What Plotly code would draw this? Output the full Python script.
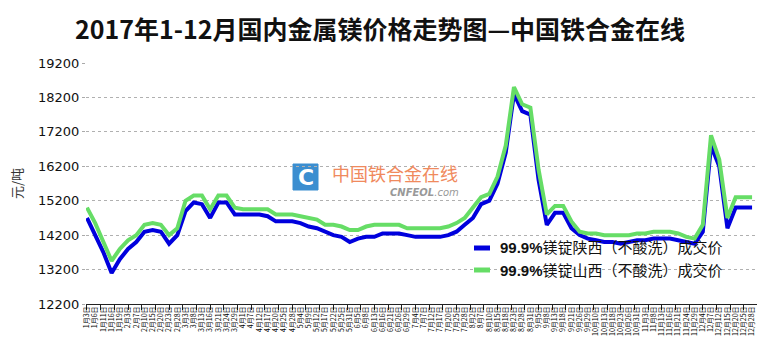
import plotly.graph_objects as go

labels = ["1月3日","1月6日","1月11日","1月16日","1月19日",
          "2月3日","2月7日","2月10日","2月15日","2月20日","2月23日","2月28日",
          "3月3日","3月8日","3月13日","3月16日","3月21日","3月24日","3月29日",
          "4月1日","4月7日","4月12日","4月17日","4月20日","4月25日","4月28日",
          "5月4日","5月9日","5月12日","5月17日","5月22日","5月25日","5月31日",
          "6月5日","6月8日","6月13日","6月16日","6月21日","6月26日","6月29日",
          "7月4日","7月7日","7月12日","7月17日","7月20日","7月25日","7月28日",
          "8月2日","8月7日","8月10日","8月15日","8月18日","8月23日","8月28日","8月31日",
          "9月5日","9月8日","9月13日","9月18日","9月21日","9月26日","9月29日",
          "10月10日","10月13日","10月18日","10月23日","10月26日","10月31日",
          "11月3日","11月8日","11月13日","11月16日","11月21日","11月24日","11月29日",
          "12月4日","12月7日","12月12日","12月15日","12月20日","12月25日","12月28日"]

shaanxi = [14700,14200,13700,13100,13500,13800,14000,14300,14350,14300,13950,14200,
           14900,15150,15100,14700,15150,15150,14800,14800,14800,14800,14750,14600,
           14600,14600,14550,14450,14400,14300,14200,14150,14000,14100,14150,14150,
           14250,14250,14250,14200,14150,14150,14150,14150,14200,14300,14500,14700,
           15100,15200,15700,16600,18300,17800,17700,15800,14500,14850,14850,14400,
           14200,14100,14050,14000,14000,13950,14000,14050,14050,14100,14100,14100,
           14050,14000,13950,14300,16800,16200,14400,15000,15000,15000]

shanxi = [15000,14550,14000,13450,13800,14050,14200,14500,14550,14500,14200,14400,
          15200,15350,15350,14950,15350,15350,15000,14950,14950,14950,14950,14800,
          14800,14800,14750,14700,14650,14500,14500,14450,14350,14350,14450,14500,
          14500,14500,14500,14400,14400,14400,14400,14400,14450,14550,14700,15000,
          15300,15400,15900,16800,18500,18000,17900,16100,14800,15050,15050,14600,
          14300,14250,14250,14200,14200,14200,14200,14250,14250,14300,14300,14300,
          14250,14150,14100,14500,17100,16400,14700,15300,15300,15300]

yticks = [12200,13200,14200,15200,16200,17200,18200,19200]

name_sx = "<b>99.9%</b>镁锭陕西（不酸洗）成交价"
name_shx = "<b>99.9%</b>镁锭山西（不酸洗）成交价"

BLUE = "#0000DD"
GREEN = "#66DD66"

W, H = 760, 357
L, R, T, B = 86, 3, 63, 53
PW, PH = W - L - R, H - T - B

def px(x):
    return (x - L) / PW

def py(y):
    return (H - B - y) / PH

idx = list(range(len(labels)))

fig = go.Figure()
fig.add_trace(go.Scatter(x=idx, y=shanxi, mode="lines", name=name_shx,
                         line=dict(color=GREEN, width=4), xaxis="x2", showlegend=False))
fig.add_trace(go.Scatter(x=idx, y=shaanxi, mode="lines", name=name_sx,
                         line=dict(color=BLUE, width=4), showlegend=False))

xr = [-0.12, len(labels) - 1 + 0.6]

fig.update_layout(
    width=W, height=H,
    margin=dict(l=L, r=R, t=T, b=B, autoexpand=False),
    paper_bgcolor="white", plot_bgcolor="white",
    title=dict(text="<b>2017年1-12月国内金属镁价格走势图—中国铁合金在线</b>",
               x=0.5, xanchor="center", y=1 - 30 / H, yanchor="middle",
               font=dict(family="Noto Sans CJK SC", size=25, color="#111")),
    xaxis=dict(range=xr, tickmode="linear", tick0=0, dtick=5 / 3,
               showticklabels=False, ticks="outside", ticklen=5, tickcolor="#222",
               showline=True, linecolor="#222", linewidth=1, showgrid=False,
               zeroline=False, automargin=False),
    xaxis2=dict(range=xr, overlaying="x", anchor="y", side="bottom",
                tickmode="array", tickvals=idx, ticktext=labels, tickangle=-90,
                ticks="", showgrid=False, zeroline=False, showline=False,
                automargin=False,
                tickfont=dict(family="Noto Sans CJK SC", size=7, color="#000")),
    yaxis=dict(range=[12200, 19200], tickmode="array", tickvals=yticks,
               ticktext=[str(v) for v in yticks], automargin=False,
               tickfont=dict(family="DejaVu Sans", size=13, color="#111"),
               showgrid=True, gridcolor="#b0b0b0", griddash="dot", gridwidth=1,
               ticks="outside", ticklen=3, tickcolor="#aaa",
               showline=False, zeroline=False,
               title=dict(text="元/吨", standoff=12,
                          font=dict(family="Noto Sans CJK SC", size=13, color="#333"))),
)

# watermark logo
shapes = []
shapes.append(dict(type="rect", xref="paper", yref="paper",
                   x0=px(293), x1=px(318), y0=py(190), y1=py(164),
                   fillcolor="#3B8ED0", line=dict(color="#3B8ED0", width=1), layer="below"))
annos = []
annos.append(dict(xref="paper", yref="paper", x=px(305.5), y=py(177), text="<b>C</b>",
                  showarrow=False, font=dict(family="DejaVu Sans", size=22, color="white"),
                  xanchor="center", yanchor="middle"))
annos.append(dict(xref="paper", yref="paper", x=px(330), y=py(173), text="中国铁合金在线",
                  showarrow=False, font=dict(family="Noto Sans CJK SC", size=18, color="#F08A5D"),
                  xanchor="left", yanchor="middle"))
annos.append(dict(xref="paper", yref="paper", x=px(388), y=py(192),
                  text="<b><i>CNFEOL</i></b><i>.com</i>",
                  showarrow=False, font=dict(family="DejaVu Sans", size=10, color="#999"),
                  xanchor="left", yanchor="middle"))

# legend
for ypos, col, nm in [(248, BLUE, name_sx), (270, GREEN, name_shx)]:
    shapes.append(dict(type="line", xref="paper", yref="paper",
                       x0=px(474), x1=px(490), y0=py(ypos), y1=py(ypos),
                       line=dict(color=col, width=5)))
    annos.append(dict(xref="paper", yref="paper", x=px(498), y=py(ypos), text=nm,
                      showarrow=False, xanchor="left", yanchor="middle",
                      font=dict(family="Liberation Sans, Noto Sans CJK SC", size=15, color="#111")))

fig.update_layout(shapes=shapes, annotations=annos)

fig.write_html("out.html", config={"displayModeBar": False},
               post_script="document.body.style.margin='0';document.body.style.padding='0';")
